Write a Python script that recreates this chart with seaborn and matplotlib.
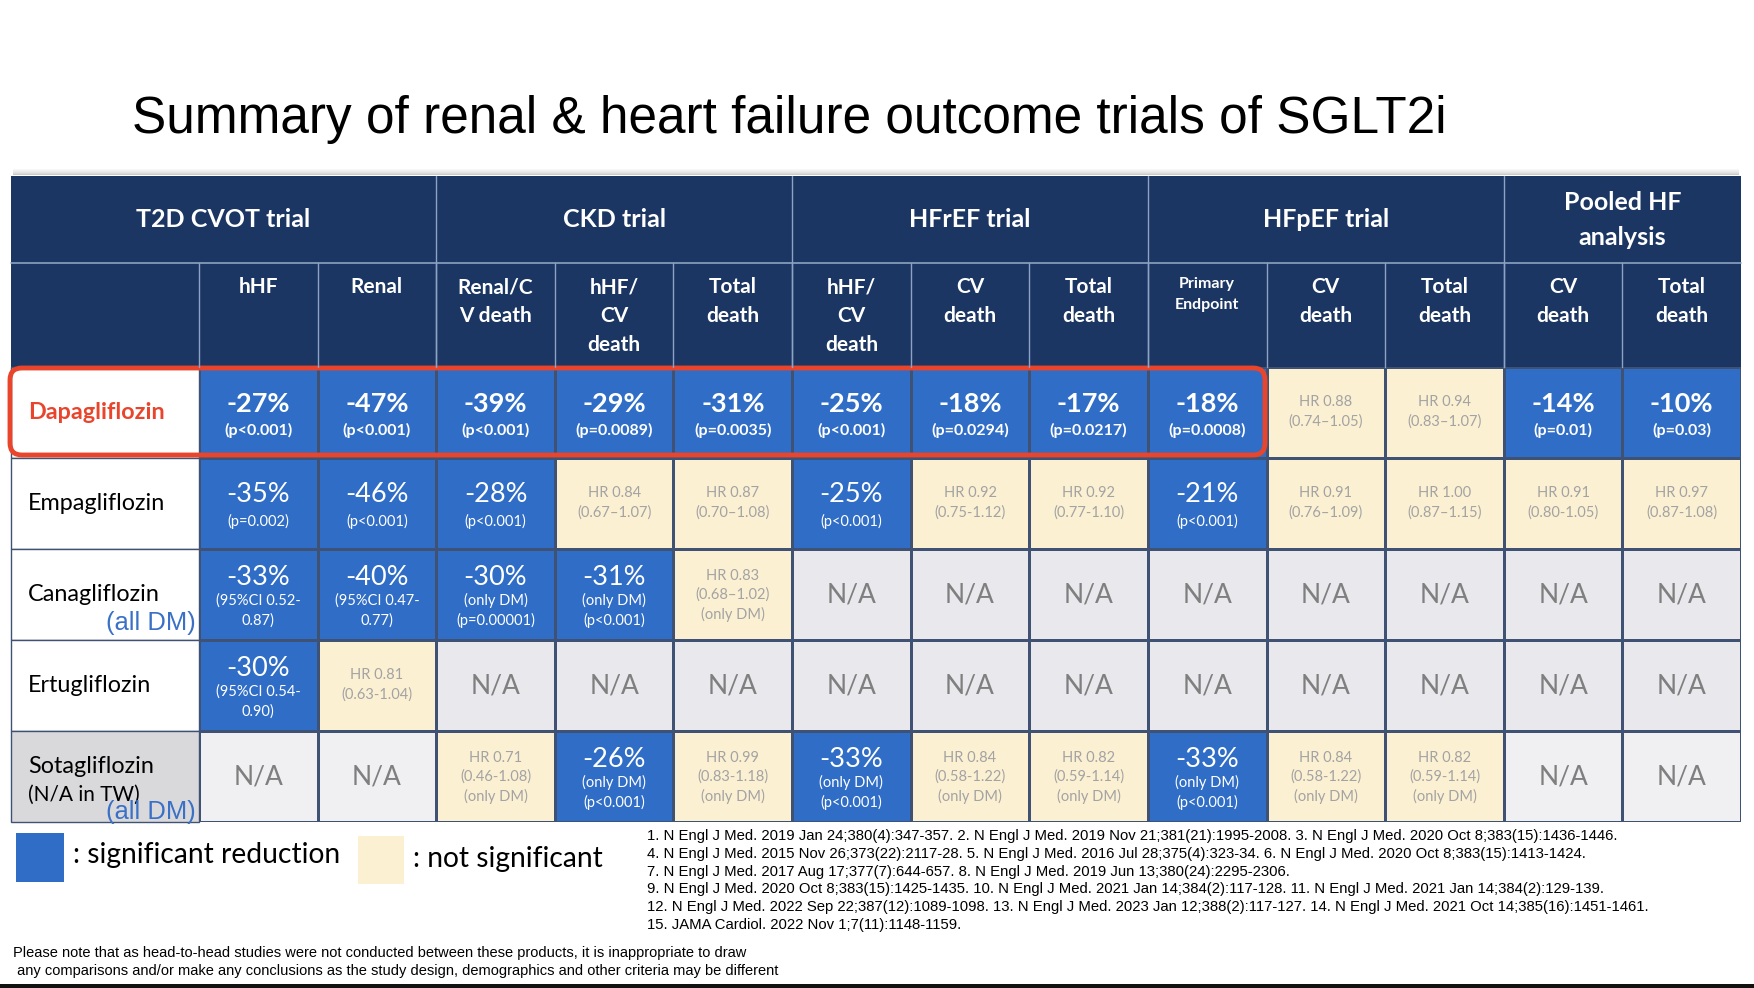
import numpy as np
import pandas as pd
import seaborn as sns
import matplotlib
matplotlib.use("Agg")
import matplotlib.pyplot as plt
from matplotlib.colors import ListedColormap
from matplotlib.patches import Rectangle, FancyBboxPatch

# ---------------- data ----------------
title = "Summary of renal & heart failure outcome trials of SGLT2i"
groups = ["T2D CVOT trial", "CKD trial", "HFrEF trial", "HFpEF trial", "Pooled HF\nanalysis"]
group_spans = [2, 3, 3, 3, 2]
subheaders = ["hHF", "Renal", "Renal/C\nV death", "hHF/\nCV\ndeath", "Total\ndeath",
              "hHF/\nCV\ndeath", "CV\ndeath", "Total\ndeath", "Primary\nEndpoint",
              "CV\ndeath", "Total\ndeath", "CV\ndeath", "Total\ndeath"]
drugs = ["Dapagliflozin", "Empagliflozin", "Canagliflozin", "Ertugliflozin", "Sotagliflozin"]
drug_notes = ["", "", "", "", "(N/A in TW)"]
drug_alldm = [False, False, True, False, True]

# 0 = significant reduction, 1 = not significant, 2 = N/A, 3 = N/A (light)
status = [
    [0, 0, 0, 0, 0, 0, 0, 0, 0, 1, 1, 0, 0],
    [0, 0, 0, 1, 1, 0, 1, 1, 0, 1, 1, 1, 1],
    [0, 0, 0, 0, 1, 2, 2, 2, 2, 2, 2, 2, 2],
    [0, 1, 2, 2, 2, 2, 2, 2, 2, 2, 2, 2, 2],
    [3, 3, 1, 0, 1, 0, 1, 1, 0, 1, 1, 3, 3],
]
dapa_main = ["-27%", "-47%", "-39%", "-29%", "-31%", "-25%", "-18%", "-17%", "-18%",
             "HR 0.88", "HR 0.94", "-14%", "-10%"]
dapa_sub = ["(p<0.001)", "(p<0.001)", "(p<0.001)", "(p=0.0089)", "(p=0.0035)", "(p<0.001)",
            "(p=0.0294)", "(p=0.0217)", "(p=0.0008)", "(0.74–1.05)", "(0.83–1.07)",
            "(p=0.01)", "(p=0.03)"]
empa_main = ["-35%", "-46%", "-28%", "HR 0.84", "HR 0.87", "-25%", "HR 0.92", "HR 0.92",
             "-21%", "HR 0.91", "HR 1.00", "HR 0.91", "HR 0.97"]
empa_sub = ["(p=0.002)", "(p<0.001)", "(p<0.001)", "(0.67–1.07)", "(0.70–1.08)", "(p<0.001)",
            "(0.75-1.12)", "(0.77-1.10)", "(p<0.001)", "(0.76–1.09)", "(0.87–1.15)",
            "(0.80-1.05)", "(0.87-1.08)"]
cana_main = ["-33%", "-40%", "-30%", "-31%", "HR 0.83"] + ["N/A"] * 8
cana_sub = ["(95%CI 0.52-\n0.87)", "(95%CI 0.47-\n0.77)", "(only DM)\n(p=0.00001)",
            "(only DM)\n(p<0.001)", "(0.68–1.02)\n(only DM)"] + [""] * 8
ertu_main = ["-30%", "HR 0.81"] + ["N/A"] * 11
ertu_sub = ["(95%CI 0.54-\n0.90)", "(0.63-1.04)"] + [""] * 11
sota_main = ["N/A", "N/A", "HR 0.71", "-26%", "HR 0.99", "-33%", "HR 0.84", "HR 0.82",
             "-33%", "HR 0.84", "HR 0.82", "N/A", "N/A"]
sota_sub = ["", "", "(0.46-1.08)\n(only DM)", "(only DM)\n(p<0.001)", "(0.83-1.18)\n(only DM)",
            "(only DM)\n(p<0.001)", "(0.58-1.22)\n(only DM)", "(0.59-1.14)\n(only DM)",
            "(only DM)\n(p<0.001)", "(0.58-1.22)\n(only DM)", "(0.59-1.14)\n(only DM)", "", ""]
main_text = [dapa_main, empa_main, cana_main, ertu_main, sota_main]
sub_text = [dapa_sub, empa_sub, cana_sub, ertu_sub, sota_sub]

legend_labels = [": significant reduction", ": not significant"]
footnotes = [
    "1. N Engl J Med. 2019 Jan 24;380(4):347-357. 2. N Engl J Med. 2019 Nov 21;381(21):1995-2008. 3. N Engl J Med. 2020 Oct 8;383(15):1436-1446.",
    "4. N Engl J Med. 2015 Nov 26;373(22):2117-28. 5. N Engl J Med. 2016 Jul 28;375(4):323-34. 6. N Engl J Med. 2020 Oct 8;383(15):1413-1424.",
    "7. N Engl J Med. 2017 Aug 17;377(7):644-657. 8. N Engl J Med. 2019 Jun 13;380(24):2295-2306.",
    "9. N Engl J Med. 2020 Oct 8;383(15):1425-1435. 10. N Engl J Med. 2021 Jan 14;384(2):117-128. 11. N Engl J Med. 2021 Jan 14;384(2):129-139.",
    "12. N Engl J Med. 2022 Sep 22;387(12):1089-1098. 13. N Engl J Med. 2023 Jan 12;388(2):117-127. 14. N Engl J Med. 2021 Oct 14;385(16):1451-1461.",
    "15. JAMA Cardiol. 2022 Nov 1;7(11):1148-1159.",
]
disclaimer = ["Please note that as head-to-head studies were not conducted between these products, it is inappropriate to draw",
              " any comparisons and/or make any conclusions as the study design, demographics and other criteria may be different"]

# ---------------- style ----------------
sns.set_theme(style="white")
plt.rcParams["font.family"] = ["Lato", "DejaVu Sans"]

NAVY = "#1B3663"
BLUE = "#2F6DC6"
BEIGE = "#FCF0D3"
NA_GREY = "#E8E8ED"
NA_LIGHT = "#F0F0F3"
NAME_GREY = "#D9D9DC"
GRID = "#3F5273"
HDR_LINE = "#8EA3C4"
RED = "#E8452C"
TXT_GREY = "#A3A3A3"
NA_TXT = "#7F7F7F"
ARIAL = ["Liberation Sans", "DejaVu Sans"]

W, H = 1754, 988
fig = plt.figure(figsize=(W / 100, H / 100), dpi=100)

# table geometry (pixels)
X0, XN, XR = 11, 199, 1741
Y_TOP, Y_H1, Y_H2, Y_BOT = 176, 263, 367, 822
ncol = 13
cw = (XR - XN) / ncol
nrow = len(drugs)
rh = (Y_BOT - Y_H2) / nrow

# ---- heatmap of data cells ----
axh = fig.add_axes([XN / W, 1 - Y_BOT / H, (XR - XN) / W, (Y_BOT - Y_H2) / H])
df = pd.DataFrame(status, index=drugs)
cmap = ListedColormap([BLUE, BEIGE, NA_GREY, NA_LIGHT])
sns.heatmap(df, cmap=cmap, vmin=-0.5, vmax=3.5, cbar=False, linewidths=1.0,
            linecolor=GRID, xticklabels=False, yticklabels=False, ax=axh)
axh.set_xlabel("")
axh.set_ylabel("")

px = 1.0 / rh  # one pixel in cell units (vertical)
for i in range(nrow):
    for j in range(ncol):
        s = status[i][j]
        m = main_text[i][j]
        sub = sub_text[i][j]
        cx, cy = j + 0.5, i + 0.5
        bold = "bold" if i == 0 else "normal"
        if s == 0:
            nsub = sub.count("\n") + 1
            if nsub == 1:
                ym, ys = -9, [18]
            else:
                ym, ys = -17, [6, 26]
            axh.text(cx, cy + ym * px, m, ha="center", va="center", color="white",
                     fontsize=19.5, fontweight=bold)
            for k, line in enumerate(sub.split("\n")):
                axh.text(cx, cy + ys[k] * px, line, ha="center", va="center", color="white",
                         fontsize=11.5 if i == 0 else 10.5, fontweight=bold)
        elif s == 1:
            lines = [m] + sub.split("\n")
            n = len(lines)
            offs = [-11, 9] if n == 2 else [-19, 0, 20]
            for k, line in enumerate(lines):
                axh.text(cx, cy + offs[k] * px, line, ha="center", va="center",
                         color=TXT_GREY, fontsize=10.5)
        else:
            axh.text(cx, cy, m, ha="center", va="center", color=NA_TXT, fontsize=19)

# ---- overlay axes for the rest ----
ax = fig.add_axes([0, 0, 1, 1], zorder=5)
ax.set_xlim(0, W)
ax.set_ylim(H, 0)
ax.axis("off")
ax.patch.set_alpha(0)

ax.text(132, 119, title, ha="left", va="center", fontsize=37, family=ARIAL, color="black")

# shadow above table
for k, a in enumerate([0.05, 0.08, 0.12, 0.16, 0.22, 0.3]):
    ax.add_patch(Rectangle((X0 + 2, Y_TOP - 7 + k), XR - X0 - 4, 1.2, color="#555555",
                           alpha=a, lw=0))

# header background
ax.add_patch(Rectangle((X0, Y_TOP), XR - X0, Y_H2 - Y_TOP, facecolor=NAVY, edgecolor="none"))
ax.plot([X0, XR], [Y_H1, Y_H1], color=HDR_LINE, lw=1.2)
# group headers
bounds = [X0, XN + 2 * cw, XN + 5 * cw, XN + 8 * cw, XN + 11 * cw, XR]
for g, label in enumerate(groups):
    xa, xb = bounds[g], bounds[g + 1]
    if g > 0:
        ax.plot([xa, xa], [Y_TOP, Y_H2], color=HDR_LINE, lw=1.0)
    if "\n" in label:
        l1, l2 = label.split("\n")
        ax.text((xa + xb) / 2, 202, l1, ha="center", va="center", color="white",
                fontsize=18, fontweight="bold")
        ax.text((xa + xb) / 2, 237, l2, ha="center", va="center", color="white",
                fontsize=18, fontweight="bold")
    else:
        ax.text((xa + xb) / 2, 219, label, ha="center", va="center", color="white",
                fontsize=18, fontweight="bold")
# sub headers
for j, label in enumerate(subheaders):
    xa = XN + j * cw
    ax.plot([xa, xa], [Y_H1, Y_H2], color=HDR_LINE, lw=1.0)
    if label.startswith("Primary"):
        for k, line in enumerate(label.split("\n")):
            ax.text(xa + cw / 2, 284 + k * 21, line, ha="center", va="center", color="white",
                    fontsize=11.5, fontweight="bold")
    else:
        for k, line in enumerate(label.split("\n")):
            ax.text(xa + cw / 2, 287 + k * 29, line, ha="center", va="center", color="white",
                    fontsize=15, fontweight="bold")

# name column
for i, d in enumerate(drugs):
    ya = Y_H2 + i * rh
    fc = NAME_GREY if i == nrow - 1 else "white"
    ax.add_patch(Rectangle((X0, ya), XN - X0, rh, facecolor=fc, edgecolor=GRID, lw=1.0))
    cy = ya + rh / 2
    if i == 0:
        ax.text(28, cy, d, ha="left", va="center", color=RED, fontsize=16.8, fontweight="bold")
    elif drug_notes[i]:
        ax.text(28, cy - 10, d, ha="left", va="center", color="black", fontsize=16.8)
        ax.text(28, cy + 18, drug_notes[i], ha="left", va="center", color="black", fontsize=15)
    else:
        ax.text(28, cy, d, ha="left", va="center", color="black", fontsize=16.8)
    if drug_alldm[i]:
        dy = 10 if drug_notes[i] else 17
        ax.text(XN - 3, ya + rh - dy, "(all DM)", ha="right", va="center", color="#3A70C6",
                fontsize=18.4, family=ARIAL)

# red highlight around Dapagliflozin row
ax.add_patch(FancyBboxPatch((10, Y_H2 + 1), 1265 - 10, rh - 4,
                            boxstyle="round,pad=0,rounding_size=12",
                            facecolor="none", edgecolor=RED, lw=3.5))

# legend
ax.add_patch(Rectangle((16, 833), 48, 49, facecolor=BLUE, edgecolor="none"))
ax.text(73, 855, legend_labels[0], ha="left", va="center", fontsize=20.3, color="black")
ax.add_patch(Rectangle((358, 836), 46, 48, facecolor=BEIGE, edgecolor="none"))
ax.text(413, 859, legend_labels[1], ha="left", va="center", fontsize=20.3, color="black")

# footnotes
for k, line in enumerate(footnotes):
    ax.text(647, 836 + k * 17.8, line, ha="left", va="center", fontsize=10.7,
            family=ARIAL, color="black")
for k, line in enumerate(disclaimer):
    ax.text(13, 953 + k * 18, line, ha="left", va="center", fontsize=10.5,
            family=ARIAL, color="black")

ax.add_patch(Rectangle((0, 984), W, 4, facecolor="#111111", edgecolor="none"))

fig.savefig("out.png", dpi=100)
